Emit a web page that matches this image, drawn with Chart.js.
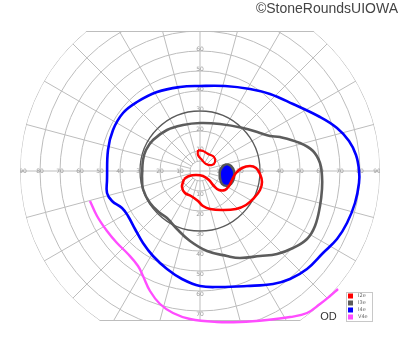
<!DOCTYPE html>
<html>
<head>
<meta charset="utf-8">
<script src="https://cdn.jsdelivr.net/npm/chart.js@4/dist/chart.umd.min.js"></script>
<style>
html,body{margin:0;padding:0;background:#fff;}
#wrap{position:relative;width:400px;height:352px;}
</style>
</head>
<body>
<div id="wrap"><canvas id="c" width="400" height="352"></canvas></div>
<script>
// ---- data (degrees: x = horizontal, y = vertical) ----
const isopterNames = ['I2e', 'I3e', 'I4e', 'V4e'];
const isopterColors = ['#ff0000', '#5c5c5c', '#0000ff', '#ff4dff'];

const i2eSmall = [[-1,10.5],[-1,8],[1,5.5],[3,3.5],[6,3],[7.5,4.5],[7,7],[4,8.5],[1.5,10],[-1,10.5]];
const i2eLarge = [[-8,-4],[-5.5,-2.5],[-2,-2],[1.5,-2.5],[4.5,-4.5],[7,-7.5],[9.5,-9.5],[12.5,-9.5],[14.5,-7.5],[16,-4.5],[18,-1],[21,1.5],[25,2.5],[28,1.5],[30,-1.5],[31,-5.5],[30,-9.5],[27,-13.5],[23,-17],[18,-19],[11,-19.5],[5,-19],[1.5,-17.5],[-1,-15],[-4.5,-12.5],[-7.5,-11],[-9,-8],[-8,-4]];
const i3e = [[-29,-2.5],[-28.5,5.5],[-27,10.5],[-23.5,15.5],[-16.5,20.5],[-8.5,23],[0,24],[10,23.5],[21.5,21.5],[30,19],[35,17.5],[40,17],[50,14],[56.5,10],[60,4],[61,-2.5],[61,-9],[60,-17.5],[57.5,-27.5],[53.5,-34],[46.5,-38.5],[38.5,-41.5],[30,-42.5],[20,-43.5],[13.5,-42.5],[3.5,-40],[-5,-35],[-11.5,-29],[-16.5,-23.5],[-20,-21],[-25,-16],[-28.5,-9],[-29,-2.5]];
const i4e = [[-46.5,-4.5],[-46,10.5],[-43.5,20.5],[-38.5,29],[-31.5,34.5],[-21.5,39.5],[-10,42],[0,42.5],[12.5,42.5],[25,41],[35,38.5],[46.5,33.5],[60,27],[68.5,21.5],[74.5,15],[78,8],[79.5,0.5],[79.5,-6],[77.5,-16],[73.5,-26],[68.5,-34],[61.5,-41],[53.5,-49],[45,-54],[36.5,-56.5],[23.5,-57.5],[10,-58],[0,-57.5],[-9,-54],[-16.5,-49],[-23.5,-42.5],[-28.5,-36],[-32.5,-29],[-36,-22.5],[-39,-18.5],[-44,-15],[-46.5,-11],[-46.5,-4.5]];
const blindSpot = [[13.5,3.5],[15.5,2.5],[17,0],[17,-3.5],[15.5,-6.5],[13.5,-7.5],[11,-6.5],[10,-3.5],[10,0],[11.5,2.5],[13.5,3.5]];
const v4e = [[-55,-15],[-51.5,-22.5],[-46.5,-30],[-41.5,-36],[-36,-41.5],[-31,-47.5],[-28.5,-52.5],[-25,-60],[-20,-66.5],[-13.5,-71],[-5,-74],[8.5,-75.5],[20,-75.5],[33.5,-74.5],[45,-73],[53.5,-71],[60,-66.5],[65,-62.5],[69,-59]];

const circleRadii = [5,10,20,30,40,50,60,70,80,90];
const meridianStep = 15;
const horizontalTicks = [10,20,30,40,50,60,70,80,90];
const verticalTicks = [10,20,30,40,50,60,70];
const fieldTop = 70, fieldBottom = -75, fieldMax = 90;

const pts = a => a.map(p => ({x: p[0], y: p[1]}));

function line(data, color, w, extra) {
  return Object.assign({data: pts(data), showLine: true, borderColor: color, borderWidth: w,
    pointRadius: 0, tension: 0.4, fill: false}, extra || {});
}

const gridPlugin = {
  id: 'goldmannGrid',
  beforeDatasetsDraw(chart) {
    const {ctx, scales: {x, y}} = chart;
    const cx = x.getPixelForValue(0), cy = y.getPixelForValue(0);
    const k = x.getPixelForValue(1) - cx;
    const R = fieldMax * k;
    const yTop = y.getPixelForValue(fieldTop), yBot = y.getPixelForValue(fieldBottom);
    ctx.save();
    ctx.beginPath();
    ctx.arc(cx, cy, R, 0, Math.PI * 2);
    ctx.clip();
    ctx.beginPath();
    ctx.rect(0, yTop, chart.width, yBot - yTop);
    ctx.clip();
    ctx.strokeStyle = '#bdbdbd';
    ctx.lineWidth = 1;
    circleRadii.forEach(r => {
      if (r === 30) return;
      ctx.beginPath(); ctx.arc(cx, cy, r * k, 0, Math.PI * 2); ctx.stroke();
    });
    for (let a = 0; a < 360; a += meridianStep) {
      const t = a * Math.PI / 180;
      const r0 = (a % 90 === 0) ? 0 : 5 * k;
      ctx.beginPath();
      ctx.moveTo(cx + Math.cos(t) * r0, cy - Math.sin(t) * r0);
      ctx.lineTo(cx + Math.cos(t) * R * 1.2, cy - Math.sin(t) * R * 1.2);
      ctx.stroke();
    }
    ctx.beginPath(); ctx.moveTo(0, yTop + 0.5); ctx.lineTo(chart.width, yTop + 0.5); ctx.stroke();
    ctx.beginPath(); ctx.moveTo(0, yBot - 0.5); ctx.lineTo(chart.width, yBot - 0.5); ctx.stroke();
    ctx.strokeStyle = '#5a5a5a';
    ctx.lineWidth = 1.3;
    ctx.beginPath(); ctx.arc(cx, cy, 30 * k, 0, Math.PI * 2); ctx.stroke();
    // tick labels
    ctx.fillStyle = '#9a9a9a';
    ctx.font = '6px "DejaVu Sans", sans-serif';
    ctx.textAlign = 'center'; ctx.textBaseline = 'middle';
    horizontalTicks.forEach(v => {
      ctx.fillText(String(v), x.getPixelForValue(-v) + (v === 90 ? 3 : 0), cy);
      ctx.fillText(String(v), x.getPixelForValue(v) - (v === 90 ? 3 : 0), cy);
    });
    verticalTicks.forEach(v => {
      ctx.fillText(String(v), cx, y.getPixelForValue(v) - 2);
      ctx.fillText(String(v), cx, y.getPixelForValue(-v) + 3);
    });
    ctx.restore();
  },
  afterDatasetsDraw(chart) {
    const {ctx} = chart;
    ctx.save();
    // legend box
    ctx.fillStyle = '#fff';
    ctx.fillRect(346, 292, 27, 29);
    ctx.strokeStyle = '#c8c8c8'; ctx.lineWidth = 1;
    ctx.strokeRect(346.5, 292.5, 26, 29);
    ctx.font = '5px "DejaVu Sans", sans-serif';
    ctx.textAlign = 'left'; ctx.textBaseline = 'middle';
    isopterNames.forEach((n, i) => {
      const yy = 293.5 + i * 7;
      ctx.fillStyle = isopterColors[i];
      ctx.fillRect(348, yy, 5, 5);
      ctx.fillStyle = '#666';
      ctx.fillText(n, 358, yy + 2.5);
    });
    ctx.fillStyle = '#333';
    ctx.font = '11px "Liberation Sans", Arial, sans-serif';
    ctx.textAlign = 'center'; ctx.textBaseline = 'alphabetic';
    ctx.fillText('OD', 328.5, 320);
    ctx.font = '14px "Liberation Sans", Arial, sans-serif';
    ctx.textAlign = 'right'; ctx.textBaseline = 'top';
    ctx.fillStyle = '#444';
    ctx.fillText('©StoneRoundsUIOWA', 398, 2);
    ctx.restore();
  }
};

new Chart(document.getElementById('c'), {
  type: 'scatter',
  data: {
    datasets: [
      line(i4e, isopterColors[2], 2.6, {label: isopterNames[2]}),
      line(i3e, isopterColors[1], 2.6, {label: isopterNames[1]}),
      line(v4e, isopterColors[3], 2.4, {label: isopterNames[3]}),
      line(i2eLarge, isopterColors[0], 2.6, {label: isopterNames[0]}),
      line(i2eSmall, isopterColors[0], 2.2, {label: isopterNames[0]}),
      line(blindSpot, '#555', 2.5, {label: 'blind spot', fill: 'shape', backgroundColor: isopterColors[2]})
    ]
  },
  options: {
    responsive: false,
    animation: false,
    devicePixelRatio: 1,
    layout: {padding: 0},
    plugins: {legend: {display: false}, tooltip: {enabled: false}, title: {display: false}},
    scales: {
      x: {type: 'linear', min: -100, max: 100, display: false},
      y: {type: 'linear', min: -90.5, max: 85.5, display: false}
    }
  },
  plugins: [gridPlugin]
});
</script>
</body>
</html>
